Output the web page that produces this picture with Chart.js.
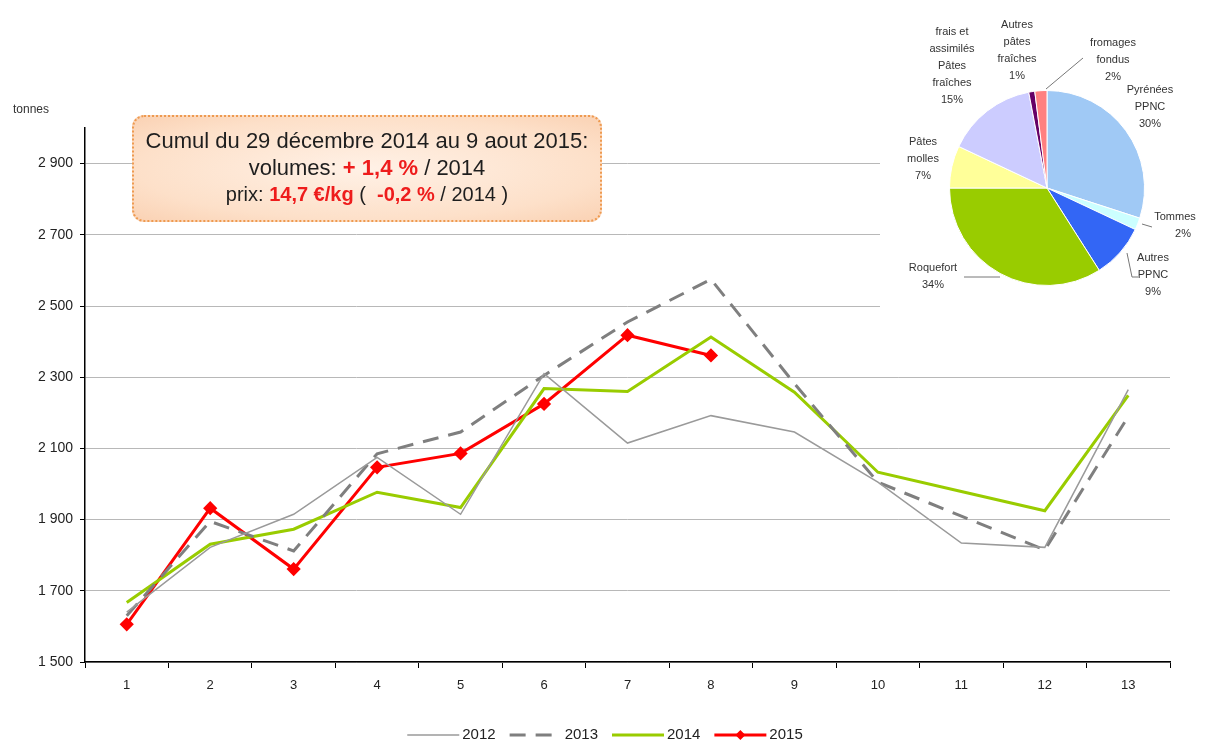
<!DOCTYPE html>
<html>
<head>
<meta charset="utf-8">
<script src="https://cdn.jsdelivr.net/npm/chart.js@4.4.1/dist/chart.umd.min.js"></script>
<style>
  body { margin: 0; background: #fff; font-family: "Liberation Sans", Arial, sans-serif; }
  #wrap { position: relative; width: 1218px; height: 743px; overflow: hidden; }
  #lineChart { position: absolute; left: 0; top: 0; }
  #pieBox { position: absolute; left: 880px; top: 0; width: 338px; height: 310px; background: #fff; }
  #unit { position: absolute; left: 13px; top: 102px; font-size: 12px; color: #333; }
  #note {
    position: absolute; left: 132px; top: 115px; width: 466px; height: 93px;
    border: 2px dotted #ee9a50; border-radius: 12px;
    background: radial-gradient(ellipse at center, #fff1e6 0%, #fde0c9 70%, #fad2b4 100%);
    text-align: center; color: #1e1e1e; padding-top: 10px; box-sizing: content-box;
  }
  #note div { line-height: 27px; white-space: nowrap; }
  #note .big { font-size: 22px; }
  #note .small { font-size: 20px; }
  #note b { color: #ee1c1c; }
</style>
</head>
<body>
<div id="wrap">
  <canvas id="lineChart" width="1218" height="743"></canvas>
  <div id="unit">tonnes</div>
  <div id="note">
    <div class="big">Cumul du 29 décembre 2014 au 9 aout 2015:</div>
    <div class="big">volumes: <b>+ 1,4 %</b> / 2014</div>
    <div class="small">prix: <b>14,7 €/kg</b> (&nbsp; <b>-0,2 %</b> / 2014 )</div>
  </div>
  <div id="pieBox"><canvas id="pieChart" width="338" height="310"></canvas></div>
</div>
<script>
// weeks of the year
const weeks = ["1", "2", "3", "4", "5", "6", "7", "8", "9", "10", "11", "12", "13"];

// volumes in tonnes
const tonnes2012 = [1640, 1822, 1915, 2075, 1915, 2310, 2115, 2192, 2146, 2005, 1834, 1822, 2265];
const tonnes2013 = [1630, 1895, 1812, 2085, 2146, 2305, 2455, 2575, 2282, 2005, 1910, 1815, 2190];
const tonnes2014 = [1667, 1831, 1873, 1977, 1934, 2268, 2260, 2413, 2258, 2033, 1979, 1925, 2249];
const tonnes2015 = [1606, 1932, 1761, 2047, 2086, 2225, 2418, 2361];

const yTicks = [1500, 1700, 1900, 2100, 2300, 2500, 2700, 2900];

// pie: share by cheese family
const pieLabels = [
  ["Pyrénées", "PPNC", "30%"],
  ["Tommes", "2%"],
  ["Autres", "PPNC", "9%"],
  ["Roquefort", "34%"],
  ["Pâtes", "molles", "7%"],
  ["frais et", "assimilés", "Pâtes", "fraîches", "15%"],
  ["Autres", "pâtes", "fraîches", "1%"],
  ["fromages", "fondus", "2%"]
];
const pieShares = [30, 2, 9, 34, 7, 15, 1, 2];
const pieColors = ["#a0c9f5", "#ccffff", "#3366f5", "#99cc00", "#ffff99", "#ccccff", "#660066", "#ff8080"];

const font = "'Liberation Sans', Arial, sans-serif";
const fmt = v => String(v).replace(/\B(?=(\d{3})+(?!\d))/g, " ");

const legendPlugin = {
  id: "bottomLegend",
  afterDraw(chart) {
    const ctx = chart.ctx;
    const y = 735;
    ctx.save();
    ctx.font = "15px " + font;
    ctx.textBaseline = "middle";
    const items = chart.data.datasets;
    const lineW = 52;
    let total = 0;
    items.forEach(d => { total += lineW + 3 + ctx.measureText(d.label).width + 14; });
    let x = 612 - total / 2;
    items.forEach(d => {
      ctx.strokeStyle = d.borderColor;
      ctx.lineWidth = d.borderWidth;
      ctx.setLineDash(d.borderDash || []);
      ctx.beginPath();
      ctx.moveTo(x, y);
      ctx.lineTo(x + lineW, y);
      ctx.stroke();
      ctx.setLineDash([]);
      if (d.pointRadius > 0) {
        const cx = x + lineW / 2, r = d.pointRadius;
        ctx.fillStyle = d.borderColor;
        ctx.beginPath();
        ctx.moveTo(cx, y - r); ctx.lineTo(cx + r, y); ctx.lineTo(cx, y + r); ctx.lineTo(cx - r, y);
        ctx.closePath();
        ctx.fill();
      }
      ctx.fillStyle = "#222";
      ctx.fillText(d.label, x + lineW + 3, y);
      x += lineW + 3 + ctx.measureText(d.label).width + 14;
    });
    ctx.restore();
  }
};

new Chart(document.getElementById("lineChart"), {
  type: "line",
  data: {
    labels: weeks,
    datasets: [
      { label: "2012", data: tonnes2012, borderColor: "#9a9a9a", borderWidth: 1.5, pointRadius: 0, tension: 0 },
      { label: "2013", data: tonnes2013, borderColor: "#7f7f7f", borderWidth: 3, borderDash: [16, 10], pointRadius: 0, tension: 0 },
      { label: "2014", data: tonnes2014, borderColor: "#99cc00", borderWidth: 3, pointRadius: 0, tension: 0 },
      { label: "2015", data: tonnes2015, borderColor: "#ff0000", backgroundColor: "#ff0000", borderWidth: 3,
        pointStyle: "rectRot", pointRadius: 5, pointBackgroundColor: "#ff0000", pointBorderColor: "#ff0000", tension: 0 }
    ]
  },
  options: {
    responsive: false,
    animation: false,
    devicePixelRatio: 1,
    layout: { padding: { top: 128, right: 48, left: 0, bottom: 0 } },
    plugins: { legend: { display: false }, tooltip: { enabled: false } },
    scales: {
      x: {
        offset: true,
        afterFit: s => { s.height = 81; },
        grid: { offset: true, drawOnChartArea: false, tickLength: 6, color: "#000" },
        border: { color: "#000", width: 1.5 },
        ticks: { color: "#222", padding: 10, font: { family: font, size: 13 } }
      },
      y: {
        min: 1500,
        max: 3000,
        afterFit: s => { s.width = 85; },
        afterBuildTicks: s => { s.ticks = yTicks.map(v => ({ value: v })); },
        grid: { color: "#b8b8b8", tickLength: 5, tickColor: "#000" },
        border: { color: "#000", width: 1.5 },
        ticks: { color: "#222", padding: 7, font: { family: font, size: 14 }, callback: v => fmt(v) }
      }
    }
  },
  plugins: [legendPlugin]
});

// label spots for the pie (canvas coords), one per slice
const pieLabelSpots = [
  [270, 90], [295, 217], [273, 258], [53, 268], [43, 142], [72, 32], [137, 25], [233, 43]
];

const pieTextPlugin = {
  id: "pieText",
  afterDraw(chart) {
    const ctx = chart.ctx;
    ctx.save();
    ctx.font = "11px " + font;
    ctx.fillStyle = "#333";
    ctx.textAlign = "center";
    ctx.textBaseline = "middle";
    pieLabels.forEach((lines, i) => {
      const [x, y] = pieLabelSpots[i];
      lines.forEach((t, k) => ctx.fillText(t, x + (i === 1 && k === 1 ? 8 : 0), y + k * 17));
    });
    ctx.strokeStyle = "#777";
    ctx.lineWidth = 1;
    const seg = pts => {
      ctx.beginPath();
      ctx.moveTo(pts[0][0], pts[0][1]);
      pts.slice(1).forEach(p => ctx.lineTo(p[0], p[1]));
      ctx.stroke();
    };
    seg([[203, 58], [166, 89]]);
    seg([[262, 224], [272, 227]]);
    seg([[247, 253], [252, 277], [258, 277]]);
    seg([[84, 277], [120, 277]]);
    ctx.restore();
  }
};

new Chart(document.getElementById("pieChart"), {
  type: "pie",
  data: {
    labels: pieLabels.map(l => l.slice(0, -1).join(" ")),
    datasets: [{ data: pieShares, backgroundColor: pieColors, borderColor: "#fff", borderWidth: 1 }]
  },
  options: {
    responsive: false,
    animation: false,
    devicePixelRatio: 1,
    layout: { padding: { left: 69, top: 90, right: 73, bottom: 24 } },
    plugins: { legend: { display: false }, tooltip: { enabled: false } }
  },
  plugins: [pieTextPlugin]
});
</script>
</body>
</html>
